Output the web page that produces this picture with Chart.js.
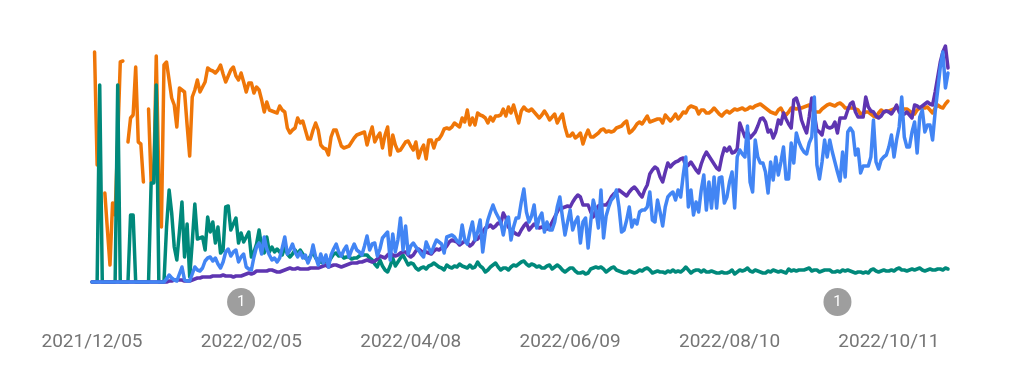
<!DOCTYPE html>
<html>
<head>
<meta charset="utf-8">
<script src="https://cdn.jsdelivr.net/npm/chart.js@4"></script>
<style>
  body { margin: 0; background: #fff; }
  canvas { display: block; }
</style>
</head>
<body>
<canvas id="chart" width="1024" height="374"></canvas>
<script>
const tickLabels = ["2021/12/05", "2022/02/05", "2022/04/08", "2022/06/09", "2022/08/10", "2022/10/11"];
const eventDates = ["2022/02/01", "2022/09/21"];

const orange = [
  null,230,117,null,null,89,52,17,79,67,
  142,220,221,null,140,164,167,215,140,138,
  100,null,173,100,100,226,102,55,217,220,
  202,184,177,155,194,192,190,157,126,185,
  192,202,190,195,200,214,212,211,209,212,
  217,208,200,206,212,215,206,202,209,200,
  190,199,199,189,195,192,182,170,180,172,
  171,170,169,176,172,170,154,149,152,154,
  164,159,161,152,143,143,152,159,152,137,
  134,133,127,145,152,152,144,136,134,135,
  136,140,144,147,148,149,150,137,147,155,
  140,145,149,134,147,155,127,147,137,131,
  132,136,140,141,136,132,140,124,132,137,
  123,142,142,134,142,143,147,153,154,153,
  155,159,157,155,164,160,172,157,164,157,
  169,167,166,164,159,165,161,166,166,167,
  173,166,175,169,177,168,159,171,175,172,
  171,173,170,167,164,167,171,167,162,165,
  168,159,164,168,155,146,146,149,144,146,
  149,138,146,152,145,145,147,149,152,153,
  150,151,150,151,154,155,156,159,161,149,
  151,154,158,160,158,162,166,160,161,162,
  163,163,159,167,164,161,164,168,163,166,
  170,169,174,176,175,174,168,172,172,169,
  169,171,174,171,168,166,169,171,169,171,
  173,172,173,174,172,173,175,174,176,177,
  178,176,174,172,170,169,168,172,174,169,
  167,170,174,174,173,174,174,175,176,177,
  173,170,170,170,173,175,177,178,177,176,
  178,179,177,174,174,174,174,173,172,168,
  169,170,170,168,166,165,169,172,170,171,
  171,172,173,174,173,172,173,173,171,169,
  168,172,174,175,174,175,172,169,174,177,
  175,174,178,181
];

const green = [
  0,0,0,197,0,0,0,0,0,0,
  197,0,0,0,0,67,67,0,0,0,
  0,0,0,99,99,197,0,0,0,55,
  92,69,35,22,50,80,25,58,5,40,
  78,43,44,45,32,65,50,60,39,55,
  29,32,75,76,52,58,64,39,49,40,
  45,50,25,30,38,52,35,29,45,30,
  35,30,33,30,27,35,28,25,28,32,
  28,32,28,24,22,26,30,24,22,20,
  19,22,20,24,28,29,26,27,24,25,
  25,23,24,24,26,27,27,27,24,22,
  18,15,22,16,12,10,16,24,16,20,
  24,27,22,17,19,18,14,12,14,15,
  13,16,17,19,17,15,14,12,17,15,
  14,16,15,18,16,15,14,17,14,15,
  20,16,14,10,12,15,17,19,15,12,
  14,14,12,15,17,16,18,20,21,18,
  16,18,17,15,16,14,14,16,17,13,
  15,17,15,12,10,12,14,14,11,9,
  9,10,8,9,13,14,15,14,15,13,
  10,12,14,15,12,11,10,9,9,11,
  10,9,10,12,11,13,14,12,9,10,
  11,10,10,9,11,10,12,10,11,10,
  12,15,12,9,11,12,12,10,12,10,
  10,11,10,9,9,10,9,9,10,12,
  8,10,12,11,12,14,11,10,12,11,
  10,9,9,11,10,12,11,10,11,10,
  9,13,11,12,11,12,12,12,13,14,
  11,12,12,10,11,12,12,12,10,10,
  11,10,12,11,12,11,10,9,10,10,
  9,10,9,12,13,11,10,11,12,11,
  11,12,11,13,14,12,12,11,12,13,
  12,13,14,12,11,12,13,12,12,13,
  13,12,14,13
];

const purple = [
  0,0,0,0,0,0,0,0,0,0,
  0,0,0,0,0,0,0,0,0,0,
  0,0,0,0,0,0,0,0,0,0,
  1,1,2,2,2,2,1,1,1,2,
  3,4,4,5,5,5,5,6,6,6,
  6,7,6,6,6,5,6,6,6,7,
  8,9,8,9,11,11,11,11,11,12,
  12,11,10,10,11,12,13,14,13,13,
  14,13,13,13,13,14,14,14,14,15,
  16,17,15,16,17,17,16,15,16,17,
  18,19,19,19,20,20,21,22,21,20,
  21,23,26,25,24,27,29,27,26,27,
  29,30,30,27,25,27,31,33,31,29,
  30,29,28,31,33,32,34,33,36,40,
  42,41,40,37,39,41,39,36,38,42,
  43,46,50,54,55,57,54,56,59,58,
  69,64,55,52,50,48,47,52,56,59,
  52,55,58,56,54,55,54,53,55,60,
  65,70,75,74,75,76,75,80,84,87,
  85,77,77,77,70,65,72,76,77,77,
  77,80,85,88,90,92,90,88,86,90,
  93,95,92,88,85,92,97,108,112,115,
  113,105,100,110,119,115,118,120,121,123,
  124,115,117,120,116,112,109,118,125,130,
  126,122,118,114,112,125,134,131,135,129,
  130,133,159,152,145,150,144,147,150,156,
  163,164,160,150,152,144,150,162,158,169,
  163,158,154,182,184,176,162,155,149,165,
  184,168,152,150,147,160,155,154,155,160,
  149,164,164,164,172,178,180,170,165,165,
  165,185,175,171,170,166,164,166,170,171,
  170,168,172,177,170,167,168,170,167,164,
  177,176,174,176,178,180,178,177,190,205,
  220,230,236,214
];

const blue = [
  0,0,0,0,0,0,0,0,0,0,
  0,0,0,0,0,0,0,0,0,0,
  0,0,0,0,0,0,0,0,0,3,
  7,4,2,1,8,15,2,1,1,8,
  15,12,11,14,21,24,25,21,24,18,
  14,20,30,33,26,30,32,20,25,28,
  15,13,12,25,35,39,28,45,33,27,
  22,24,20,24,34,45,28,32,38,30,
  25,30,24,27,19,25,37,25,17,28,
  19,27,15,27,33,38,30,26,32,36,
  25,32,38,32,30,27,36,46,32,38,
  39,26,33,44,47,50,22,48,30,42,
  64,32,56,28,36,39,35,32,28,25,
  40,34,29,36,42,40,38,29,45,46,
  47,45,41,39,57,42,38,50,60,42,
  50,62,30,50,62,70,77,70,65,60,
  47,60,65,42,55,64,64,80,93,70,
  60,66,77,54,64,69,50,60,52,52,
  60,75,85,65,47,60,72,52,60,65,
  39,60,64,34,60,82,72,54,92,44,
  66,75,82,85,92,75,50,52,62,75,
  55,62,58,70,72,72,75,90,62,60,
  82,70,56,75,85,88,90,82,92,85,
  107,125,75,92,67,80,70,92,107,72,
  100,74,105,74,104,105,79,85,100,110,
  74,125,132,128,125,156,100,90,142,125,
  119,119,110,89,120,102,125,107,120,135,
  103,103,139,119,149,140,134,130,128,139,
  145,185,117,103,120,142,125,142,130,120,
  110,101,130,105,150,154,150,127,133,109,
  116,116,116,125,162,120,113,122,125,127,
  135,147,125,142,155,185,145,135,135,150,
  160,129,165,172,150,157,157,142,170,192,
  215,230,194,209
];

// one category per day from the first tick onwards
const days = [];
const start = new Date(Date.UTC(2021, 11, 5));
for (let i = 0; i < orange.length; i++) {
  const d = new Date(start.getTime() + i * 86400000);
  days.push(d.getUTCFullYear() + "/" + String(d.getUTCMonth() + 1).padStart(2, "0") + "/" + String(d.getUTCDate()).padStart(2, "0"));
}

function line(data, color) {
  return {
    data: data,
    borderColor: color,
    borderWidth: 3.5,
    pointRadius: 0,
    tension: 0,
    spanGaps: false,
    clip: false,
    borderCapStyle: "round",
    borderJoinStyle: "round"
  };
}

// grey annotation badges under the axis
const badges = {
  id: "badges",
  afterDraw(chart) {
    const c = chart.ctx;
    const y = chart.chartArea.bottom + 20;
    eventDates.forEach(date => {
      const x = chart.scales.x.getPixelForValue(days.indexOf(date));
      c.save();
      c.fillStyle = "#9e9e9e";
      c.beginPath();
      c.arc(x, y, 14, 0, Math.PI * 2);
      c.fill();
      c.fillStyle = "#fff";
      c.font = "15px Roboto";
      c.textAlign = "center";
      c.textBaseline = "middle";
      c.fillText("1", x, y);
      c.restore();
    });
  }
};

new Chart(document.getElementById("chart"), {
  type: "line",
  data: {
    labels: days,
    // first dataset ends up on top
    datasets: [line(blue, "#4285f4"), line(purple, "#5e35b1"), line(green, "#00897b"), line(orange, "#ef7608")]
  },
  options: {
    responsive: false,
    animation: false,
    layout: { padding: { left: 92, right: 76, top: 42, bottom: 22 } },
    plugins: { legend: { display: false }, tooltip: { enabled: false } },
    scales: {
      x: {
        grid: { display: false, drawTicks: false },
        border: { display: false },
        afterFit(scale) {
          scale.height = 70;
          scale.paddingLeft = 0;
          scale.paddingRight = 0;
        },
        ticks: {
          autoSkip: false,
          maxRotation: 0,
          padding: 49,
          color: "#757575",
          font: { family: "Roboto", size: 19 },
          callback: function (value) {
            const name = this.getLabelForValue(value);
            return tickLabels.includes(name) ? name : "";
          }
        }
      },
      y: { display: false, min: 0, max: 240 }
    }
  },
  plugins: [badges]
});
</script>
</body>
</html>
